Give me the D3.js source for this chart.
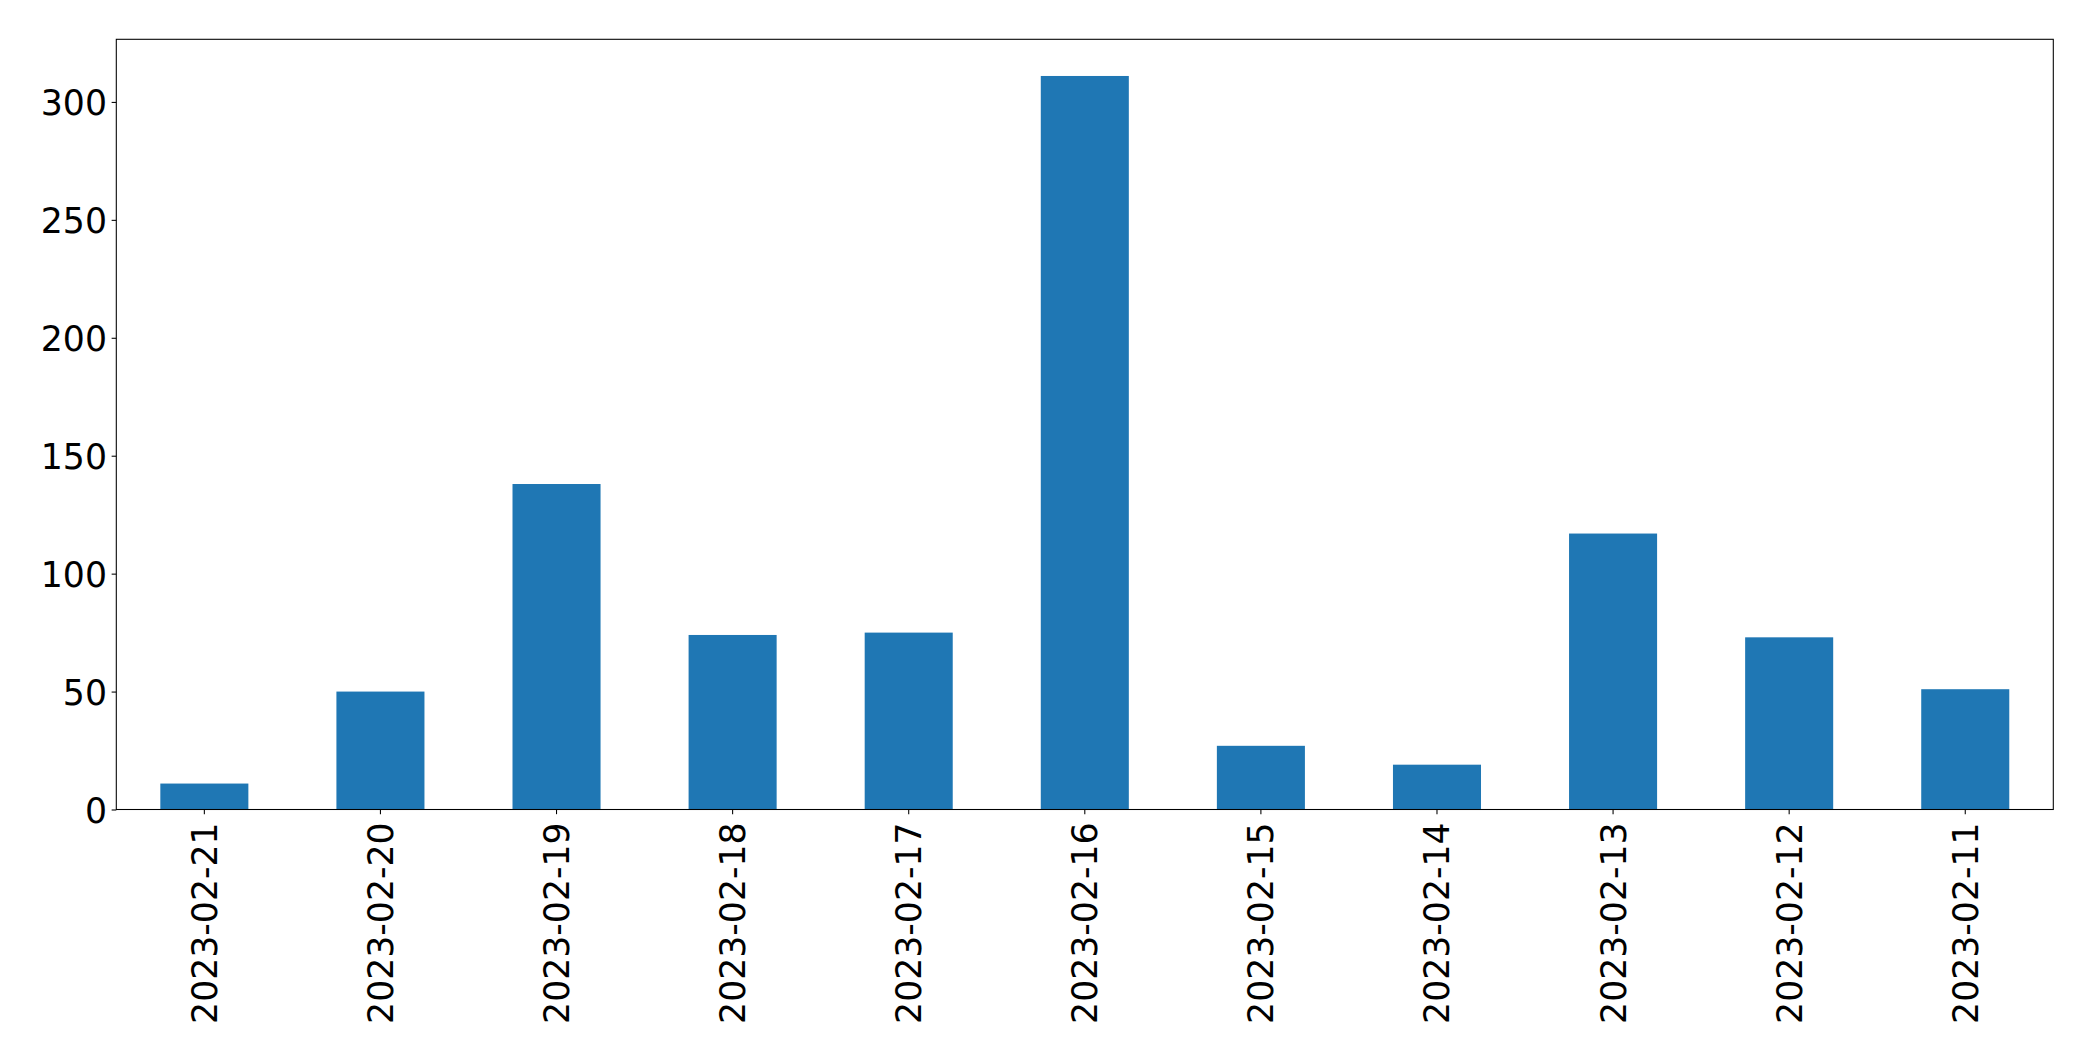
<!DOCTYPE html>
<html>
<head>
<meta charset="utf-8">
<script src="https://cdn.jsdelivr.net/npm/d3@7"></script>
<style>
  html, body { margin: 0; padding: 0; background: #ffffff; }
  svg { display: block; }
</style>
</head>
<body>
<svg id="chart" width="2093" height="1061"></svg>
<script>
const categories = ["2023-02-21", "2023-02-20", "2023-02-19", "2023-02-18", "2023-02-17", "2023-02-16",
                    "2023-02-15", "2023-02-14", "2023-02-13", "2023-02-12", "2023-02-11"];
const values = [11, 50, 138, 74, 75, 311, 27, 19, 117, 73, 51];
const yTicks = [0, 50, 100, 150, 200, 250, 300];

const W = 2093, H = 1061;
const margin = { left: 116.3, top: 39.3, right: W - 2053.3, bottom: H - 809.5 };
const fontSize = 34.7;
const tickLen = 4.67, tickPad = 4.67, lw = 1.07;
const barColor = "#1f77b4";

const svg = d3.select("#chart");
svg.append("rect").attr("width", W).attr("height", H).attr("fill", "#ffffff");

const x = d3.scaleBand()
  .domain(categories)
  .range([margin.left, W - margin.right])
  .paddingInner(0.5)
  .paddingOuter(0.25);

const yMax = d3.max(values) * 1.05;
const y = d3.scaleLinear()
  .domain([0, yMax])
  .range([H - margin.bottom, margin.top]);

// bars
svg.append("g")
  .selectAll("rect")
  .data(categories.map((c, i) => ({ c, v: values[i] })))
  .join("rect")
  .attr("x", d => x(d.c))
  .attr("y", d => y(d.v))
  .attr("width", x.bandwidth())
  .attr("height", d => y(0) - y(d.v))
  .attr("fill", barColor);

// x axis
const xAxis = svg.append("g")
  .attr("transform", `translate(0,${H - margin.bottom})`)
  .call(d3.axisBottom(x).tickSize(tickLen).tickPadding(tickPad).tickSizeOuter(0));
xAxis.select(".domain").remove();
xAxis.selectAll(".tick line").attr("stroke", "#000").attr("stroke-width", lw);
xAxis.selectAll(".tick text")
  .attr("font-family", "DejaVu Sans")
  .attr("font-size", fontSize)
  .attr("fill", "#000")
  .attr("text-anchor", "end")
  .attr("transform", "rotate(-90)")
  .attr("x", -(tickLen + tickPad + 3.5))
  .attr("y", 0)
  .attr("dy", "0.36em");

// y axis
const yAxis = svg.append("g")
  .attr("transform", `translate(${margin.left},0)`)
  .call(d3.axisLeft(y).tickValues(yTicks).tickFormat(d3.format("d")).tickSize(tickLen).tickPadding(tickPad).tickSizeOuter(0));
yAxis.select(".domain").remove();
yAxis.selectAll(".tick line").attr("stroke", "#000").attr("stroke-width", lw);
yAxis.selectAll(".tick text")
  .attr("font-family", "DejaVu Sans")
  .attr("font-size", fontSize)
  .attr("fill", "#000")
  .attr("dy", "0.36em");

// frame (spines)
svg.append("rect")
  .attr("x", margin.left)
  .attr("y", margin.top)
  .attr("width", W - margin.right - margin.left)
  .attr("height", H - margin.bottom - margin.top)
  .attr("fill", "none")
  .attr("stroke", "#000")
  .attr("stroke-width", lw);
</script>
</body>
</html>
